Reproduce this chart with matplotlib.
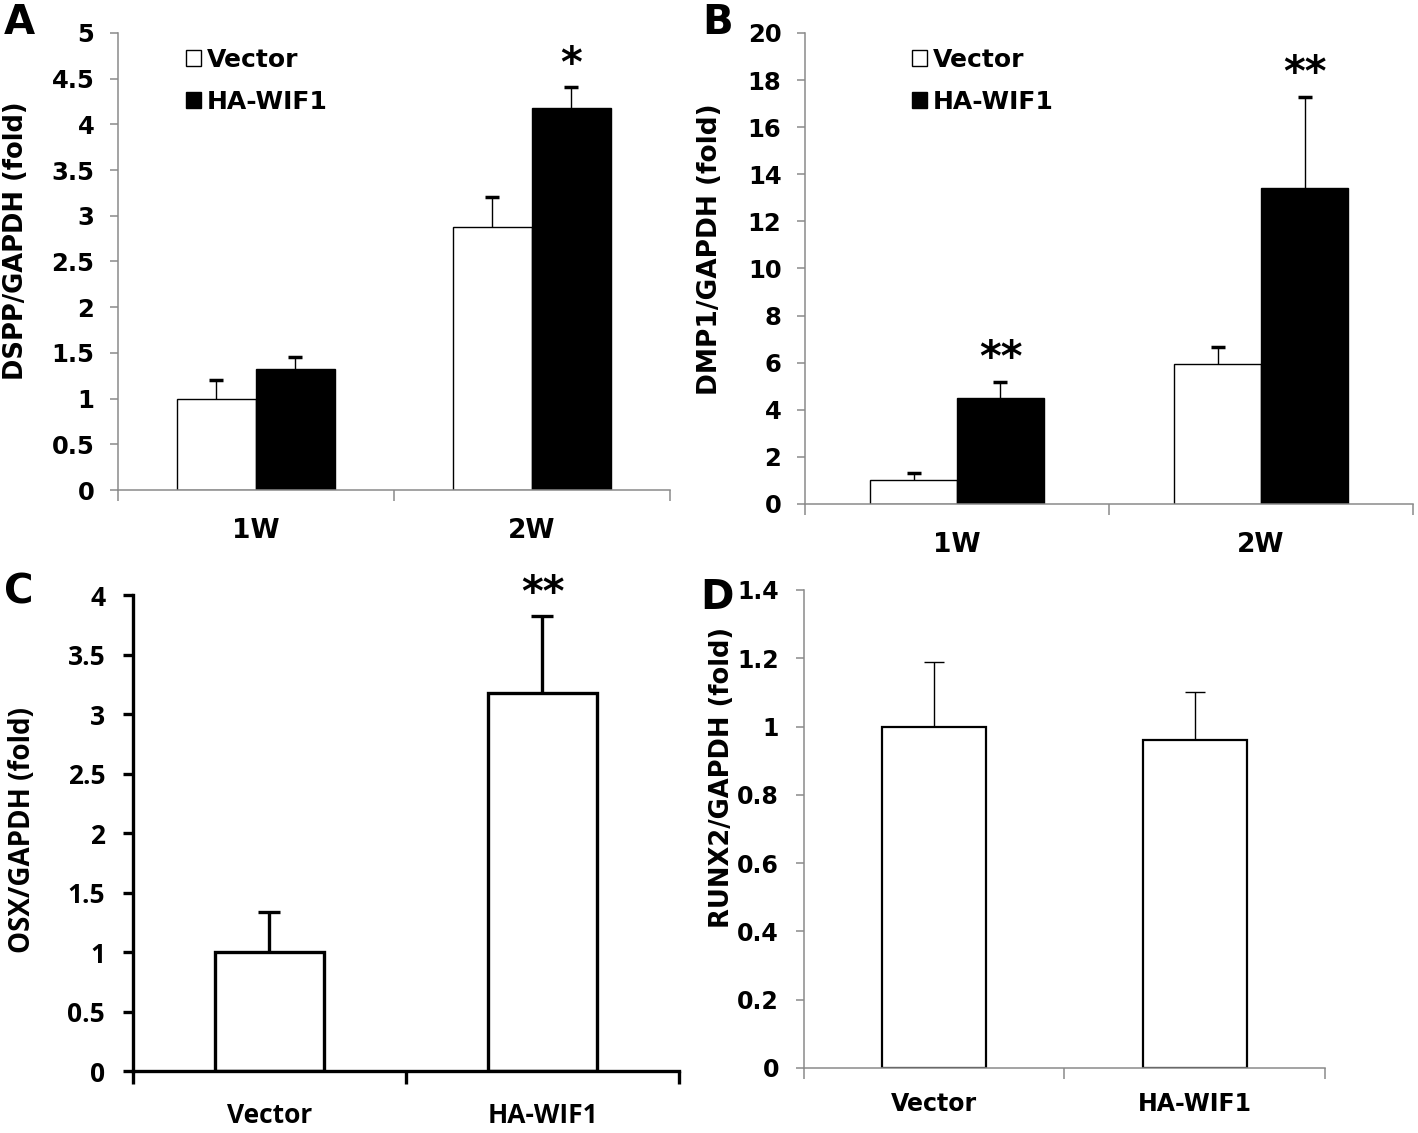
import matplotlib
matplotlib.use("Agg")
import matplotlib.pyplot as plt
from matplotlib.patches import Patch
import numpy as np

# ---------------- data ----------------
weeks = ["1W", "2W"]
groups = ["Vector", "HA-WIF1"]

dspp_vector = [1.00, 2.88]
dspp_vector_err = [0.20, 0.33]
dspp_wif1 = [1.32, 4.18]
dspp_wif1_err = [0.13, 0.23]
dspp_sig = ["", "*"]

dmp1_vector = [1.00, 5.93]
dmp1_vector_err = [0.30, 0.72]
dmp1_wif1 = [4.48, 13.40]
dmp1_wif1_err = [0.72, 3.90]
dmp1_sig = ["**", "**"]

osx_values = [1.00, 3.18]
osx_err = [0.34, 0.64]
osx_sig = ["", "**"]

runx2_values = [1.00, 0.96]
runx2_err = [0.19, 0.14]

plt.rcParams["font.family"] = ["DejaVu Sans"]
plt.rcParams["font.weight"] = "bold"
SANS = ["DejaVu Sans"]
CALIBRI = ["Open Sans", "DejaVu Sans"]
GRAY = "#8a8a8a"

fig = plt.figure(figsize=(14.18, 11.33), dpi=100)


def style_axes(ax, spine_color, spine_lw, font, tick_size, ypad, xpad, tick_len):
    for s in ["top", "right"]:
        ax.spines[s].set_visible(False)
    for s in ["left", "bottom"]:
        ax.spines[s].set_color(spine_color)
        ax.spines[s].set_linewidth(spine_lw)
    ax.tick_params(axis="y", which="major", direction="out", length=tick_len,
                   width=spine_lw, color=spine_color, pad=ypad)
    ax.tick_params(axis="x", which="major", length=0, pad=xpad)
    ax.tick_params(axis="x", which="minor", direction="out", length=tick_len + 2,
                   width=spine_lw, color=spine_color)
    for lab in ax.get_yticklabels():
        lab.set_fontfamily(font)
        lab.set_fontweight("bold")
        lab.set_fontsize(tick_size)


def set_cats(ax, ncat, labels, font, size):
    ax.set_xlim(-0.5, ncat - 0.5)
    ax.set_xticks(np.arange(ncat))
    ax.set_xticklabels(labels, fontfamily=font, fontweight="bold", fontsize=size)
    ax.set_xticks(np.arange(ncat + 1) - 0.5, minor=True)


def up_err(ax, xs, vals, errs, lw, cap, capw):
    _, caps, _ = ax.errorbar(xs, vals, yerr=[np.zeros(len(vals)), errs], fmt="none",
                             ecolor="black", elinewidth=lw, capsize=cap,
                             capthick=capw, zorder=3)
    caps[0].set_visible(False)  # hide the cap at the bar top (lower side)


def stars(ax, xs, tops, sig, size):
    for xi, ti, s in zip(xs, tops, sig):
        if s:
            ax.annotate(s, xy=(xi, ti), xytext=(0, 1), textcoords="offset points",
                        ha="center", va="bottom", fontsize=size,
                        fontfamily=SANS, fontweight="bold")


def legend(ax, anchor):
    ax.legend(handles=[Patch(facecolor="white", edgecolor="black", lw=1.0),
                       Patch(facecolor="black", edgecolor="black", lw=1.0)],
              labels=groups, loc="upper left", bbox_to_anchor=anchor,
              frameon=False, handlelength=0.6, handleheight=0.6,
              handletextpad=0.25, labelspacing=0.72, borderpad=0,
              prop={"family": SANS, "weight": "bold", "size": 18})


x = np.arange(len(weeks))
w = 0.286

# ---------------- Panel A ----------------
axA = fig.add_axes([0.0832, 0.5675, 0.389, 0.4034])
axA.bar(x - w / 2, dspp_vector, w, color="white", edgecolor="black", lw=1.0, zorder=2)
axA.bar(x + w / 2, dspp_wif1, w, color="black", edgecolor="black", lw=1.0, zorder=2)
up_err(axA, x - w / 2, dspp_vector, dspp_vector_err, 1.0, 5, 2.5)
up_err(axA, x + w / 2, dspp_wif1, dspp_wif1_err, 1.0, 5, 2.5)
axA.set_ylim(0, 5)
axA.set_yticks(np.arange(0, 5.01, 0.5))
axA.set_yticklabels(["0", "0.5", "1", "1.5", "2", "2.5", "3", "3.5", "4", "4.5", "5"])
set_cats(axA, 2, weeks, SANS, 19)
style_axes(axA, GRAY, 1.1, SANS, 17.5, 11, 20, 6)
stars(axA, x + w / 2, np.add(dspp_wif1, dspp_wif1_err), dspp_sig, 30)
axA.set_ylabel("DSPP/GAPDH (fold)", fontfamily=SANS, fontweight="bold", fontsize=18.5)
axA.yaxis.set_label_coords(-0.162, 0.545)
legend(axA, (0.10, 0.995))

# ---------------- Panel B ----------------
axB = fig.add_axes([0.5677, 0.5552, 0.4288, 0.4157])
axB.bar(x - w / 2, dmp1_vector, w, color="white", edgecolor="black", lw=1.0, zorder=2)
axB.bar(x + w / 2, dmp1_wif1, w, color="black", edgecolor="black", lw=1.0, zorder=2)
up_err(axB, x - w / 2, dmp1_vector, dmp1_vector_err, 1.0, 5, 2.5)
up_err(axB, x + w / 2, dmp1_wif1, dmp1_wif1_err, 1.0, 5, 2.5)
axB.set_ylim(0, 20)
axB.set_yticks(np.arange(0, 20.1, 2))
axB.set_yticklabels([str(v) for v in range(0, 21, 2)])
set_cats(axB, 2, weeks, SANS, 19)
style_axes(axB, GRAY, 1.1, SANS, 17.5, 11, 20, 6)
stars(axB, x + w / 2, np.add(dmp1_wif1, dmp1_wif1_err), dmp1_sig, 30)
axB.set_ylabel("DMP1/GAPDH (fold)", fontfamily=SANS, fontweight="bold", fontsize=19)
axB.yaxis.set_label_coords(-0.135, 0.54)
legend(axB, (0.155, 0.995))

# ---------------- Panel C ----------------
axC = fig.add_axes([0.0938, 0.0547, 0.385, 0.4201])
xc = np.arange(len(groups))
wc = 0.4
axC.bar(xc, osx_values, wc, color="white", edgecolor="black", lw=2.4, zorder=2)
up_err(axC, xc, osx_values, osx_err, 2.4, 8, 2.4)
axC.set_ylim(0, 4)
axC.set_yticks(np.arange(0, 4.01, 0.5))
axC.set_yticklabels(["0", "0.5", "1", "1.5", "2", "2.5", "3", "3.5", "4"])
set_cats(axC, 2, groups, CALIBRI, 19)
style_axes(axC, "black", 2.4, CALIBRI, 19, 13, 22, 7)
stars(axC, xc, np.add(osx_values, osx_err), osx_sig, 30)
axC.set_ylabel("OSX/GAPDH (fold)", fontfamily=CALIBRI, fontweight="bold", fontsize=20)
axC.yaxis.set_label_coords(-0.175, 0.506)

# ---------------- Panel D ----------------
axD = fig.add_axes([0.567, 0.0574, 0.3674, 0.4219])
axD.bar(xc, runx2_values, wc, color="white", edgecolor="black", lw=1.6, zorder=2)
up_err(axD, xc, runx2_values, runx2_err, 1.0, 7, 1.0)
axD.set_ylim(0, 1.4)
axD.set_yticks(np.arange(0, 1.41, 0.2))
axD.set_yticklabels(["0", "0.2", "0.4", "0.6", "0.8", "1", "1.2", "1.4"])
set_cats(axD, 2, groups, SANS, 17)
style_axes(axD, GRAY, 1.1, SANS, 17, 12, 17, 6)
axD.set_ylabel("RUNX2/GAPDH (fold)", fontfamily=SANS, fontweight="bold", fontsize=18.5)
axD.yaxis.set_label_coords(-0.133, 0.607)

# ---------------- panel letters ----------------
for lab, px, py in [("A", 4, 3), ("B", 702, 3), ("C", 4, 573), ("D", 700, 578)]:
    fig.text(px / 1418, 1 - py / 1133, lab, fontfamily=SANS, fontweight="bold",
             fontsize=29, ha="left", va="top")

fig.savefig("out.png", dpi=100)
